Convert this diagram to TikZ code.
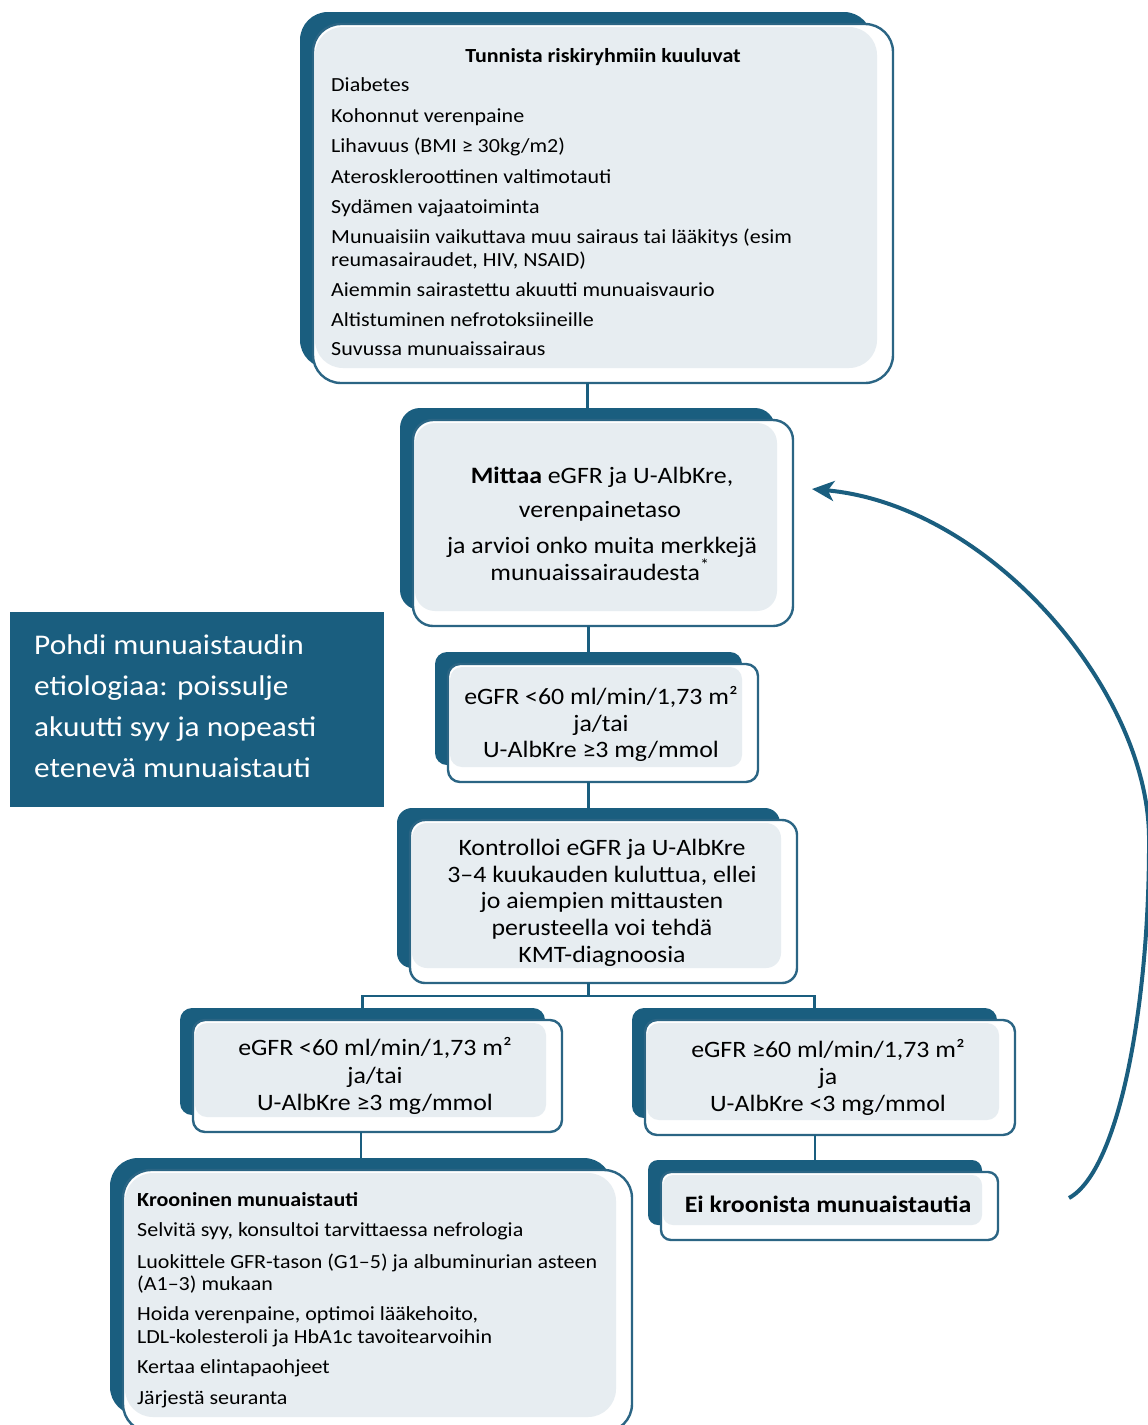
\documentclass[tikz,border=0pt]{standalone}
\usepackage{fontspec}
\setmainfont{Carlito}[FakeStretch=1.1]
\usetikzlibrary{fit,calc,arrows.meta}
\definecolor{kdark}{HTML}{1A5E7F}
\definecolor{klight}{HTML}{E7EDF1}
\definecolor{kline}{HTML}{2B6584}
\newcommand\fsA{\fontsize{20}{24}\selectfont}
\newcommand\fsB{\fontsize{23.5}{28}\selectfont}
\newcommand\fsC{\fontsize{28.5}{34}\selectfont}
\tikzset{
  darkbox/.style={fill=kdark, inner sep=0pt, outer sep=0pt, rounded corners=#1},
  outbox/.style={fill=white, draw=kline, line width=2.4pt, inner sep=0pt, outer sep=0pt, rounded corners=#1},
  lightbox/.style={fill=klight, inner sep=0pt, outer sep=0pt, rounded corners=#1},
  conn/.style={draw=kdark, line width=2.8pt},
  lft/.style={anchor=base west, inner sep=0pt, font=\fsA},
  ctr/.style={anchor=base, inner sep=0pt, font=\fsB},
  sidetxt/.style={anchor=base west, inner sep=0pt, font=\fsC, text=white},
}
\newcommand\kbox[8]{%
  \node[darkbox=#8, fit={(#2,#3)(#4,#5)}] (d#1) {};
  \node[outbox=#8, fit={(#2+13,#3+12)(#6,#7)}] (o#1) {};
  \node[lightbox=#8, fit={(#2+15,#3+15)(#6-16,#7-15)}] (f#1) {};
}
\begin{document}
\begin{tikzpicture}[x=1pt, y=-1pt]
\useasboundingbox (0,0) rectangle (1148,1425);
\clip (0,0) rectangle (1148,1425);

% boxes
\kbox{1}{300}{12}{872}{368}{893}{383}{28pt}
\kbox{2}{400}{408}{775}{610}{793}{626}{20pt}
\kbox{3}{435}{652}{742}{765}{758}{782}{12pt}
\kbox{4}{397}{808}{780}{968}{797}{983}{15pt}
\kbox{5}{180}{1008}{545}{1115}{562}{1132}{12pt}
\kbox{6}{632}{1008}{997}{1118}{1015}{1135}{12pt}
\kbox{7}{110}{1158}{612}{1415}{632}{1432}{28pt}
\kbox{8}{648}{1160}{982}{1225}{998}{1240}{10pt}

% connectors
\draw[conn] (d2.north |- o1.south) -- (d2.north);
\draw[conn] (d3.north |- o2.south) -- (d3.north);
\draw[conn] (d4.north |- o3.south) -- (d4.north);
\draw[conn] (d4.south |- o4.south) -- ++(0,13) coordinate (fk);
\draw[conn] (d5.north) |- (fk) -| (d6.north);
\draw[conn] (d7.north |- o5.south) -- (d7.north);
\draw[conn] (d8.north |- o6.south) -- (d8.north);

% box 1 text
\node[anchor=base, inner sep=0pt, font=\fsA\bfseries] (h1) at (603,62) {Tunnista riskiryhmiin kuuluvat};
\foreach \y/\t [count=\i] in {
  91/{Diabetes},
  122/{Kohonnut verenpaine},
  152/{Lihavuus (BMI ≥ 30kg/m2)},
  183/{Ateroskleroottinen valtimotauti},
  213/{Sydämen vajaatoiminta},
  243/{Munuaisiin vaikuttava muu sairaus tai lääkitys (esim},
  266/{reumasairaudet, HIV, NSAID)},
  296/{Aiemmin sairastettu akuutti munuaisvaurio},
  326/{Altistuminen nefrotoksiineille},
  355/{Suvussa munuaissairaus}}
  \node[lft] (a\i) at (331,\y) {\t};

% box 2 text
\node[ctr] (b1) at (602,483) {\textbf{Mittaa} eGFR ja U-AlbKre,};
\node[ctr] (b2) at (600,517) {verenpainetaso};
\node[ctr] (b3) at (602,553) {ja arvioi onko muita merkkejä};
\node[ctr] (b4) at (600,580) {munuaissairaudesta\textsuperscript{*}};

% box 3 text
\node[ctr] (c1) at (601,704) {eGFR <60 ml/min/1,73 m²};
\node[ctr] (c2) at (601,731) {ja/tai};
\node[ctr] (c3) at (601,757) {U-AlbKre ≥3 mg/mmol};

% box 4 text
\foreach \y/\t [count=\i] in {
  855/{Kontrolloi eGFR ja U-AlbKre},
  882/{3–4 kuukauden kuluttua, ellei},
  908/{jo aiempien mittausten},
  935/{perusteella voi tehdä},
  962/{KMT-diagnoosia}}
  \node[ctr] (e\i) at (602,\y) {\t};

% box 5 text
\node[ctr] (g1) at (375,1055) {eGFR <60 ml/min/1,73 m²};
\node[ctr] (g2) at (375,1083) {ja/tai};
\node[ctr] (g3) at (375,1110) {U-AlbKre ≥3 mg/mmol};

% box 6 text
\node[ctr] (k1) at (828,1057) {eGFR ≥60 ml/min/1,73 m²};
\node[ctr] (k2) at (828,1084) {ja};
\node[ctr] (k3) at (828,1111) {U-AlbKre <3 mg/mmol};

% box 7 text
\node[lft, font=\fsA\bfseries] (h7) at (137,1206) {Krooninen munuaistauti};
\foreach \y/\t [count=\i] in {
  1236/{Selvitä syy, konsultoi tarvittaessa nefrologia},
  1268/{Luokittele GFR-tason (G1–5) ja albuminurian asteen},
  1290/{(A1–3) mukaan},
  1320/{Hoida verenpaine, optimoi lääkehoito,},
  1343/{LDL-kolesteroli ja HbA1c tavoitearvoihin},
  1373/{Kertaa elintapaohjeet},
  1404/{Järjestä seuranta}}
  \node[lft] (m\i) at (137,\y) {\t};

% box 8 text
\node[ctr, font=\fsB\bfseries] (n1) at (828,1212) {Ei kroonista munuaistautia};

% side box
\node[fill=kdark, inner sep=0pt, outer sep=0pt, fit={(10,612)(384,807)}] (side) {};
\foreach \y/\t [count=\i] in {
  654/{Pohdi munuaistaudin},
  695/{etiologiaa: poissulje},
  736/{akuutti syy ja nopeasti},
  777/{etenevä munuaistauti}}
  \node[sidetxt] (s\i) at (34,\y) {\t};

% return arrow
\coordinate (as) at (1069,1198);
\coordinate (ae) at (812,489);
\draw[conn, line width=4pt, -{Stealth[length=22pt,width=20pt,inset=6pt]}]
  (as) .. controls (1120,1170) and (1150,1000) .. (1149,836)
       .. controls (1147,690) and (990,505) .. (ae);
\end{tikzpicture}
\end{document}
